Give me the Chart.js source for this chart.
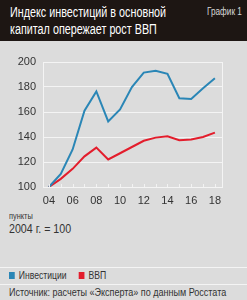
<!DOCTYPE html>
<html>
<head>
<meta charset="utf-8">
<script src="https://cdn.jsdelivr.net/npm/chart.js@4"></script>
<style>
  html, body { margin: 0; padding: 0; }
  body { width: 247px; height: 300px; background: #dcdcdc; position: relative; overflow: hidden;
         font-family: "Liberation Sans", Arial, sans-serif; color: #2a2a2a; }
  .cond { position: absolute; white-space: nowrap; transform: scaleX(0.82); transform-origin: 0 0; }
  #head { position: absolute; left: 0; top: 0; width: 247px; height: 41px; background: #1d1613; }
  #title { left: 10px; top: 4px; color: #fff; font-size: 14px; line-height: 17px; transform: scaleX(0.77); }
  #num { left: 207px; top: 6px; color: #d8d8d8; font-size: 10px; }
  #wrap { position: absolute; left: 0; top: 41px; width: 247px; height: 170px; }
  #units { left: 9px; top: 211px; font-size: 9px; line-height: 11px; color: #333; }
  #units span { font-size: 13px; line-height: 14px; }
  .rule { position: absolute; left: 0; width: 247px; height: 1px; background: #f4f4f4; }
  #legend { left: 9px; top: 269px; font-size: 10.5px; color: #333; }
  #legend i { display: inline-block; width: 7px; height: 7px; margin-right: 5px; vertical-align: 0px; }
  #source { left: 9px; top: 286px; font-size: 11px; color: #333; }
</style>
</head>
<body>
<div id="head">
  <div id="title" class="cond">Индекс инвестиций в основной<br>капитал опережает рост ВВП</div>
  <div id="num" class="cond">График 1</div>
</div>
<div id="wrap"><canvas id="chart"></canvas></div>
<div id="units" class="cond">пункты<br><span>2004 г. = 100</span></div>
<div class="rule" style="top:267px"></div>
<div id="legend" class="cond"><i style="background:#2a86b6"></i>Инвестиции&nbsp;&nbsp;&nbsp;&nbsp;&nbsp;<i style="background:#e31d2c"></i>ВВП</div>
<div class="rule" style="top:284px"></div>
<div id="source" class="cond">Источник: расчеты «Эксперта» по данным Росстата</div>
<script>
const years = [2004, 2005, 2006, 2007, 2008, 2009, 2010, 2011, 2012, 2013, 2014, 2015, 2016, 2017, 2018];
const investments = [100, 110.5, 130, 161, 176.5, 152.5, 162, 180, 191.5, 193, 190.5, 171, 170.5, 179, 187];
const gdp = [100, 106.5, 114.5, 124.5, 131.5, 122, 127, 132, 137, 139.5, 140.5, 137.5, 138, 140, 143.5];
const yTicks = [100, 120, 140, 160, 180, 200];

const tickMarks = {
  id: 'tickMarks',
  afterDatasetsDraw(chart) {
    const x = chart.scales.x, ctx = chart.ctx, b = chart.chartArea.bottom;
    ctx.save();
    ctx.strokeStyle = '#f2f2f2';
    ctx.lineWidth = 1;
    years.forEach(v => {
      const px = Math.round(x.getPixelForValue(v)) + 0.5;
      ctx.beginPath(); ctx.moveTo(px, b - 3); ctx.lineTo(px, b); ctx.stroke();
    });
    ctx.restore();
  }
};

const tickFont = { family: '"Liberation Sans", Arial, sans-serif', size: 11 };

new Chart(document.getElementById('chart'), {
  type: 'line',
  data: {
    datasets: [{
      label: 'Инвестиции',
      data: years.map((y, i) => ({ x: y, y: investments[i] })),
      borderColor: '#2a86b6',
      borderWidth: 2,
      pointRadius: 0,
      fill: false,
      tension: 0
    }, {
      label: 'ВВП',
      data: years.map((y, i) => ({ x: y, y: gdp[i] })),
      borderColor: '#e31d2c',
      borderWidth: 2,
      pointRadius: 0,
      fill: false,
      tension: 0
    }]
  },
  options: {
    responsive: true,
    maintainAspectRatio: false,
    animation: false,
    layout: { padding: { top: 21, right: 0, left: 0, bottom: 0 } },
    plugins: { legend: { display: false }, tooltip: { enabled: false } },
    scales: {
      x: {
        type: 'linear',
        min: 2003.5,
        max: 2018.6,
        afterBuildTicks: s => { s.ticks = years.map(v => ({ value: v })); },
        afterFit: s => { s.height = 24; },
        grid: { display: true, drawOnChartArea: false, drawTicks: false },
        border: { color: '#f4f4f4', width: 1 },
        ticks: {
          autoSkip: false,
          maxRotation: 0,
          padding: 7,
          color: '#333',
          font: tickFont,
          callback: v => (v % 2 === 0 ? String(v).slice(2) : '')
        }
      },
      y: {
        min: 100,
        max: 200,
        afterBuildTicks: s => { s.ticks = yTicks.map(v => ({ value: v })); },
        afterFit: s => { s.width = 43; },
        grid: { color: '#f4f4f4', lineWidth: 1, drawTicks: false },
        border: { color: '#f4f4f4', width: 1 },
        ticks: { padding: 7, color: '#333', font: tickFont }
      },
      y2: {
        position: 'right',
        min: 100,
        max: 200,
        afterFit: s => { s.width = 25; },
        grid: { display: false },
        border: { color: '#f4f4f4', width: 1 },
        ticks: { display: false }
      }
    }
  },
  plugins: [tickMarks]
});
</script>
</body>
</html>
